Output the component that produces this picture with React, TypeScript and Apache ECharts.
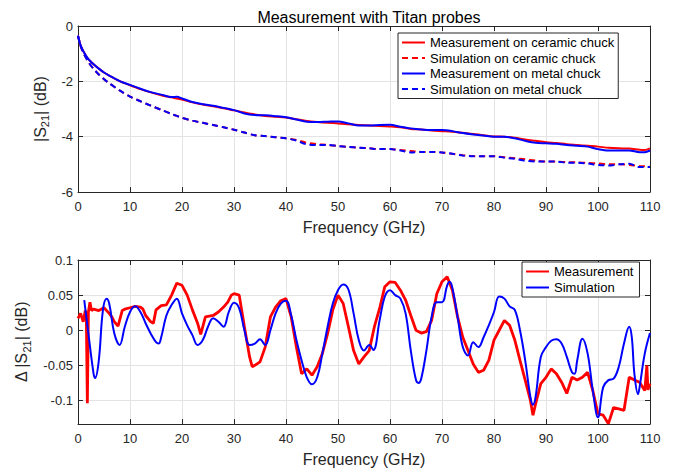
import React, { useEffect, useRef } from "react";
import * as echarts from "echarts";

// ---------- Top panel data ----------
const freqTop = [0, 0.5, 1, 2, 3, 4, 5, 6, 8, 10, 12, 14, 16, 18, 19, 20, 22, 24, 26, 28, 30, 32, 34, 36, 38, 40, 42, 44, 46, 48, 50, 52, 54, 56, 58, 60, 62, 64, 66, 68, 70, 72, 74, 76, 78, 80, 82, 84, 86, 88, 90, 92, 94, 96, 98, 100, 102, 104, 106, 108, 109, 110];
const measCeramic = [-0.35, -0.7, -0.9, -1.2, -1.38, -1.54, -1.68, -1.79, -1.99, -2.14, -2.28, -2.4, -2.5, -2.58, -2.62, -2.66, -2.76, -2.84, -2.9, -2.97, -3.05, -3.13, -3.2, -3.25, -3.28, -3.31, -3.37, -3.43, -3.47, -3.5, -3.52, -3.55, -3.58, -3.6, -3.61, -3.63, -3.66, -3.72, -3.74, -3.78, -3.8, -3.82, -3.86, -3.9, -3.95, -3.99, -4.0, -4.04, -4.1, -4.15, -4.2, -4.23, -4.27, -4.3, -4.33, -4.36, -4.4, -4.42, -4.43, -4.47, -4.48, -4.42];
const measMetal = [-0.35, -0.7, -0.9, -1.2, -1.38, -1.54, -1.68, -1.79, -1.99, -2.13, -2.27, -2.39, -2.48, -2.57, -2.56, -2.62, -2.75, -2.83, -2.88, -2.96, -3.04, -3.16, -3.22, -3.23, -3.26, -3.3, -3.38, -3.46, -3.47, -3.46, -3.45, -3.52, -3.6, -3.6, -3.58, -3.57, -3.64, -3.7, -3.74, -3.76, -3.76, -3.8, -3.87, -3.92, -3.96, -4.0, -4.0, -4.06, -4.15, -4.22, -4.24, -4.26, -4.3, -4.33, -4.36, -4.45, -4.5, -4.5, -4.5, -4.56, -4.56, -4.5];
const simCeramic = [-0.35, -0.72, -0.95, -1.3, -1.55, -1.75, -1.92, -2.07, -2.33, -2.55, -2.72, -2.88, -3.03, -3.18, -3.25, -3.32, -3.42, -3.5, -3.58, -3.66, -3.75, -3.85, -3.95, -3.98, -4.02, -4.06, -4.12, -4.22, -4.27, -4.3, -4.34, -4.37, -4.4, -4.42, -4.45, -4.45, -4.48, -4.52, -4.55, -4.55, -4.57, -4.62, -4.67, -4.7, -4.71, -4.71, -4.74, -4.78, -4.82, -4.86, -4.9, -4.9, -4.92, -4.93, -4.95, -4.97, -5.0, -5.0, -5.02, -5.06, -5.07, -5.09];
const simMetal = [-0.35, -0.72, -0.95, -1.3, -1.55, -1.75, -1.92, -2.07, -2.33, -2.55, -2.72, -2.88, -3.03, -3.18, -3.25, -3.32, -3.42, -3.5, -3.58, -3.66, -3.75, -3.85, -3.95, -3.98, -4.02, -4.06, -4.14, -4.28, -4.3, -4.3, -4.34, -4.37, -4.4, -4.42, -4.45, -4.45, -4.5, -4.57, -4.55, -4.55, -4.57, -4.62, -4.68, -4.71, -4.71, -4.71, -4.76, -4.8, -4.87, -4.9, -4.9, -4.9, -4.94, -4.94, -4.97, -5.02, -5.04, -5.0, -4.98, -5.1, -5.1, -5.1];

// ---------- Bottom panel data ----------
const freqMeas = [0, 0.5, 1, 1.4, 1.6, 1.8, 2.0, 2.3, 2.6, 3, 4, 5, 6, 6.5, 7, 7.7, 8.5, 9, 10, 11, 12, 12.5, 13, 14, 14.5, 15, 16, 17, 18, 19, 20, 21, 22, 23, 23.6, 24.5, 26, 27, 28, 28.8, 29.5, 30, 31, 32, 33, 33.5, 34, 35, 36, 37, 38, 39, 40, 41, 42, 43, 44, 45, 46, 47, 48, 49, 50, 51, 52, 53, 54, 55, 56, 57, 58, 59, 60, 61, 62, 63, 64, 65, 66, 67, 68, 69, 70, 71, 72, 73, 74, 75, 76, 77, 78, 79, 80, 81, 82, 83, 84, 85, 86, 87, 87.5, 88, 89, 90, 91, 92, 93, 94, 95, 96, 97, 98, 99, 100, 101, 102, 103, 104, 105, 106, 107, 108, 109, 109.4, 109.6, 110];
const deltaMeas = [0.017, 0.024, 0.012, 0.028, 0.02, -0.104, 0.026, 0.04, 0.028, 0.03, 0.028, 0.032, 0.024, 0.019, 0.012, 0.006, 0.028, 0.03, 0.032, 0.034, 0.033, 0.03, 0.021, 0.012, 0.01, 0.029, 0.035, 0.036, 0.05, 0.067, 0.064, 0.05, 0.029, 0.01, -0.006, 0.019, 0.021, 0.026, 0.033, 0.04, 0.05, 0.052, 0.05, 0.005, -0.038, -0.052, -0.05, -0.045, -0.024, 0.019, 0.033, 0.042, 0.045, 0.019, -0.024, -0.062, -0.055, -0.064, -0.052, -0.033, -0.005, 0.029, 0.05, 0.038, 0.005, -0.029, -0.048, -0.038, -0.029, 0.005, 0.031, 0.062, 0.069, 0.068, 0.057, 0.043, 0.021, 0, -0.004, -0.002, 0.014, 0.052, 0.069, 0.076, 0.057, 0.019, -0.01, -0.029, -0.048, -0.06, -0.057, -0.043, -0.014, 0, 0.014, 0.007, -0.014, -0.043, -0.071, -0.1, -0.121, -0.105, -0.076, -0.067, -0.055, -0.062, -0.074, -0.09, -0.067, -0.071, -0.067, -0.06, -0.086, -0.119, -0.121, -0.133, -0.11, -0.112, -0.114, -0.067, -0.071, -0.074, -0.086, -0.05, -0.085, -0.076];

const freqSim = [1.2, 2, 3, 3.3, 4, 4.8, 5.5, 6, 7, 8, 9, 10, 11, 12, 13, 14, 15, 15.5, 16, 17, 18, 19, 20, 21, 22, 23, 24, 25, 26, 27, 28, 29, 30, 31, 32, 33, 34, 35, 36, 37, 38, 39, 40, 41, 42, 43, 44, 45, 46, 47, 48, 49, 50, 51, 52, 53, 54, 55, 56, 56.8, 58, 59, 60, 61, 62, 63, 64, 65, 65.5, 66, 67, 68, 69, 70, 71, 71.5, 72, 73, 74, 75, 76, 77, 78, 79, 80, 81, 82, 83, 84, 85, 86, 87, 87.5, 88, 89, 90, 91, 92, 93, 94, 95, 95.5, 96, 97, 98, 99, 100, 101, 102, 103, 104, 105, 106, 106.5, 107, 107.7, 108, 109, 110];
const deltaSim = [0.043, -0.005, -0.062, -0.068, -0.043, 0.029, 0.045, 0.038, -0.005, -0.021, 0.005, 0.026, 0.034, 0.026, 0.01, -0.005, -0.017, -0.019, -0.01, 0.021, 0.036, 0.045, 0.024, 0.007, -0.007, -0.021, -0.014, 0.005, 0.017, 0.012, 0.005, 0.026, 0.039, 0.031, 0, -0.021, -0.019, -0.013, -0.021, 0, 0.024, 0.038, 0.042, 0.021, -0.014, -0.043, -0.067, -0.077, -0.067, -0.033, 0.005, 0.038, 0.057, 0.065, 0.058, 0.024, -0.014, -0.029, -0.021, -0.028, 0.014, 0.048, 0.057, 0.05, 0.045, 0.024, -0.029, -0.071, -0.075, -0.069, -0.029, 0.019, 0.04, 0.04, 0.064, 0.069, 0.06, 0.019, -0.024, -0.036, -0.017, -0.024, -0.01, 0.007, 0.026, 0.048, 0.045, 0.034, 0.029, 0, -0.043, -0.095, -0.106, -0.095, -0.038, -0.024, -0.015, -0.013, -0.019, -0.038, -0.06, -0.062, -0.043, -0.012, -0.033, -0.086, -0.124, -0.081, -0.071, -0.069, -0.052, -0.019, 0.005, -0.01, -0.062, -0.091, -0.081, -0.033, -0.004];

const xTicks = { min: 0, max: 110, interval: 10 };
const topY = { min: -6, max: 0, interval: 2 };
const botYMin = -0.1335;
const botYMax = 0.1;
const botYTicks = [-0.1, -0.05, 0, 0.05, 0.1];

const FONT = "'Liberation Sans', Arial, Helvetica, sans-serif";
const AX = "#262626";
const GRIDC = "#e3e3e3";

const zip = (xs: number[], ys: number[]) => xs.map((x, i) => [x, ys[i]]);

export default function App() {
  const ref = useRef<HTMLDivElement>(null);
  useEffect(() => {
    if (!ref.current) return;
    const chart = echarts.init(ref.current, undefined, { renderer: "svg" });

    const baseX = (gridIndex: number, bottom: boolean) => ({
      type: "value",
      gridIndex,
      position: bottom ? "bottom" : "top",
      ...xTicks,
      axisLine: { show: true, onZero: false, lineStyle: { color: AX, width: 1 } },
      axisTick: { show: true, inside: true, length: 5, lineStyle: { color: AX } },
      axisLabel: bottom
        ? { show: true, color: AX, fontSize: 13, fontFamily: FONT, margin: 8 }
        : { show: false },
      splitLine: bottom ? { show: true, lineStyle: { color: GRIDC, width: 1 } } : { show: false },
      name: bottom ? "Frequency (GHz)" : "",
      nameLocation: "middle",
      nameGap: 27,
      nameTextStyle: { color: AX, fontSize: 16, fontFamily: FONT },
    });

    const rich = {
      sub: { fontSize: 11, fontFamily: FONT, color: AX, padding: [10, 0, 0, 0] },
    };

    const legendCommon = {
      orient: "vertical",
      itemWidth: 23,
      itemHeight: 14,
      backgroundColor: "#fff",
      borderColor: AX,
      borderWidth: 1,
      borderRadius: 0,
      itemStyle: { opacity: 0 },
      textStyle: { fontSize: 13, color: "#000", fontFamily: FONT },
    };

    const option: any = {
      animation: false,
      backgroundColor: "#fff",
      title: {
        text: "Measurement with Titan probes",
        left: 364,
        top: 4,
        textAlign: "center",
        textStyle: { fontSize: 16, fontWeight: "normal", color: "#000", fontFamily: FONT },
      },
      grid: [
        { left: 78, top: 26, width: 572, height: 166 },
        { left: 78, top: 260, width: 572, height: 164 },
      ],
      xAxis: [baseX(0, true), baseX(0, false), baseX(1, true), baseX(1, false)],
      yAxis: [
        {
          type: "value",
          gridIndex: 0,
          position: "left",
          ...topY,
          axisLine: { show: true, onZero: false, lineStyle: { color: AX } },
          axisTick: { show: true, inside: true, length: 5, lineStyle: { color: AX } },
          axisLabel: { color: AX, fontSize: 13, fontFamily: FONT, margin: 5 },
          splitLine: { show: true, lineStyle: { color: GRIDC } },
          name: "|S{sub|21}| (dB)",
          nameLocation: "middle",
          nameGap: 24,
          nameTextStyle: { color: AX, fontSize: 16, fontFamily: FONT, rich },
        },
        {
          type: "value",
          gridIndex: 0,
          position: "right",
          ...topY,
          axisLine: { show: true, onZero: false, lineStyle: { color: AX } },
          axisTick: { show: true, inside: true, length: 5, lineStyle: { color: AX } },
          axisLabel: { show: false },
          splitLine: { show: false },
        },
        {
          type: "value",
          gridIndex: 1,
          position: "left",
          min: botYMin,
          max: botYMax,
          axisLine: { show: true, onZero: false, lineStyle: { color: AX } },
          axisTick: { show: true, inside: true, length: 5, lineStyle: { color: AX }, customValues: botYTicks },
          axisLabel: { color: AX, fontSize: 13, fontFamily: FONT, margin: 5, customValues: botYTicks },
          splitLine: { show: true, lineStyle: { color: GRIDC } },
          name: "Δ |S{sub|21}| (dB)",
          nameLocation: "middle",
          nameGap: 46,
          nameTextStyle: { color: AX, fontSize: 16, fontFamily: FONT, rich },
        },
        {
          type: "value",
          gridIndex: 1,
          position: "right",
          min: botYMin,
          max: botYMax,
          axisLine: { show: true, onZero: false, lineStyle: { color: AX } },
          axisTick: { show: true, inside: true, length: 5, lineStyle: { color: AX }, customValues: botYTicks },
          axisLabel: { show: false },
          splitLine: { show: false },
        },
      ],
      legend: [
        {
          ...legendCommon,
          left: 398,
          top: 33,
          padding: [3, 4, 3, 3],
          itemGap: 2.5,
          data: [
            "Measurement on ceramic chuck",
            "Simulation on ceramic chuck",
            "Measurement on metal chuck",
            "Simulation on metal chuck",
          ],
        },
        {
          ...legendCommon,
          left: 522,
          top: 262,
          padding: [3, 6, 3, 3],
          itemGap: 3,
          data: ["Measurement", "Simulation"],
        },
      ],
      series: [
        {
          name: "Measurement on ceramic chuck",
          type: "line",
          xAxisIndex: 0,
          yAxisIndex: 0,
          data: zip(freqTop, measCeramic),
          symbol: "none",
          smooth: 0.3,
          lineStyle: { color: "#ff0000", width: 2 },
          itemStyle: { color: "#ff0000" },
        },
        {
          name: "Simulation on ceramic chuck",
          type: "line",
          xAxisIndex: 0,
          yAxisIndex: 0,
          data: zip(freqTop, simCeramic),
          symbol: "none",
          smooth: 0.3,
          lineStyle: { color: "#ff0000", width: 2, type: [6, 4] },
          itemStyle: { color: "#ff0000" },
        },
        {
          name: "Measurement on metal chuck",
          type: "line",
          xAxisIndex: 0,
          yAxisIndex: 0,
          data: zip(freqTop, measMetal),
          symbol: "none",
          smooth: 0.3,
          lineStyle: { color: "#0000ff", width: 2 },
          itemStyle: { color: "#0000ff" },
        },
        {
          name: "Simulation on metal chuck",
          type: "line",
          xAxisIndex: 0,
          yAxisIndex: 0,
          data: zip(freqTop, simMetal),
          symbol: "none",
          smooth: 0.3,
          lineStyle: { color: "#0000ff", width: 2, type: [6, 4] },
          itemStyle: { color: "#0000ff" },
        },
        {
          name: "Measurement",
          type: "line",
          xAxisIndex: 2,
          yAxisIndex: 2,
          data: zip(freqMeas, deltaMeas),
          symbol: "none",
          lineStyle: { color: "#ff0000", width: 2.8 },
          itemStyle: { color: "#ff0000" },
        },
        {
          name: "Simulation",
          type: "line",
          xAxisIndex: 2,
          yAxisIndex: 2,
          data: zip(freqSim, deltaSim),
          symbol: "none",
          smooth: 0.4,
          lineStyle: { color: "#0000ff", width: 2 },
          itemStyle: { color: "#0000ff" },
        },
      ],
    };
    chart.setOption(option);
    return () => chart.dispose();
  }, []);
  return <div ref={ref} style={{ width: 674, height: 468, position: "absolute", left: 0, top: 0 }} />;
}
